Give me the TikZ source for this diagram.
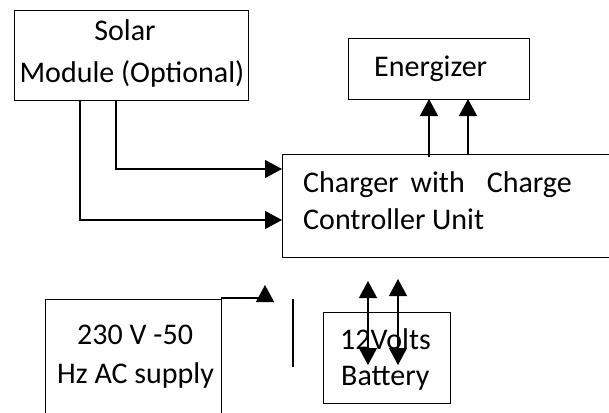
\documentclass[tikz,border=0pt]{standalone}
\usepackage{fontspec}
\setmainfont{Carlito}
\usetikzlibrary{arrows.meta}
\begin{document}
\begin{tikzpicture}[x=1pt,y=-1pt,
  blk/.style={draw,line width=0.9pt,inner sep=0pt,outer sep=0pt,anchor=north west},
  conn/.style={line width=1.3pt,-{Triangle[length=17pt,width=18pt]}},
  txt/.style={font=\fontsize{30}{36}\selectfont,inner sep=0pt}]
  \clip (0,0) rectangle (609,412);
  % boxes
  \node[blk,minimum width=234pt,minimum height=90pt] (solar) at (14,10) {};
  \node[blk,minimum width=181pt,minimum height=61pt] (energizer) at (348,38) {};
  \node[blk,minimum width=340pt,minimum height=103pt] (charger) at (282,154) {};
  \node[blk,minimum width=176pt,minimum height=130pt] (ac) at (45,299) {};
  \node[blk,minimum width=127pt,minimum height=91pt] (battery) at (323,312) {};
  % texts
  \node[txt,anchor=base] (soltxt) at (125,41) {Solar};
  \node[txt,anchor=base] (modtxt) at (132,82) {Module (Optional)};
  \node[txt,anchor=base west] (enetxt) at (374,76) {Energizer};
  \node[txt,anchor=base west] (chgtxt) at (303,192) {Charger\hspace{12pt}with\hspace{22pt}Charge};
  \node[txt,anchor=base west] (ctltxt) at (303,229) {Controller Unit};
  \node[txt,anchor=base west] (actxt) at (77,344) {230 V -50};
  \node[txt,anchor=base west] (hztxt) at (57,383) {Hz AC supply};
  \node[txt,anchor=base west] (volttxt) at (340,349) {12Volts};
  \node[txt,anchor=base west] (battxt) at (341,385) {Battery};
  % solar to charger
  \coordinate (s1) at ([xshift=66pt]solar.south west);
  \coordinate (s2) at ([xshift=102pt]solar.south west);
  \coordinate (c1) at ([yshift=-66pt]charger.north west);
  \coordinate (c2) at ([yshift=-15pt]charger.north west);
  \draw[conn] (s1) |- (c1);
  \draw[conn] (s2) |- (c2);
  % charger to energizer
  \coordinate (e1) at ([xshift=147pt,yshift=-3pt]charger.north west);
  \coordinate (e2) at ([xshift=186pt]charger.north west);
  \draw[conn] (e1) -- (e1 |- energizer.south);
  \draw[conn] (e2) -- (e2 |- energizer.south);
  % ac supply
  \draw[conn] ([yshift=1pt]ac.north east) -- ++(44,0) -- ++(0,-13);
  \draw[line width=1.3pt] (ac.north east) ++(72,0) -- ++(0,68);
  % charger to battery
  \draw[conn,{Triangle[length=17pt,width=18pt]}-{Triangle[length=17pt,width=18pt]}] ([xshift=45pt,yshift=31pt]battery.north west) -- ++(0,84);
  \draw[conn,{Triangle[length=17pt,width=18pt]}-{Triangle[length=17pt,width=18pt]}] ([xshift=75pt,yshift=33pt]battery.north west) -- ++(0,86);
\end{tikzpicture}
\end{document}
